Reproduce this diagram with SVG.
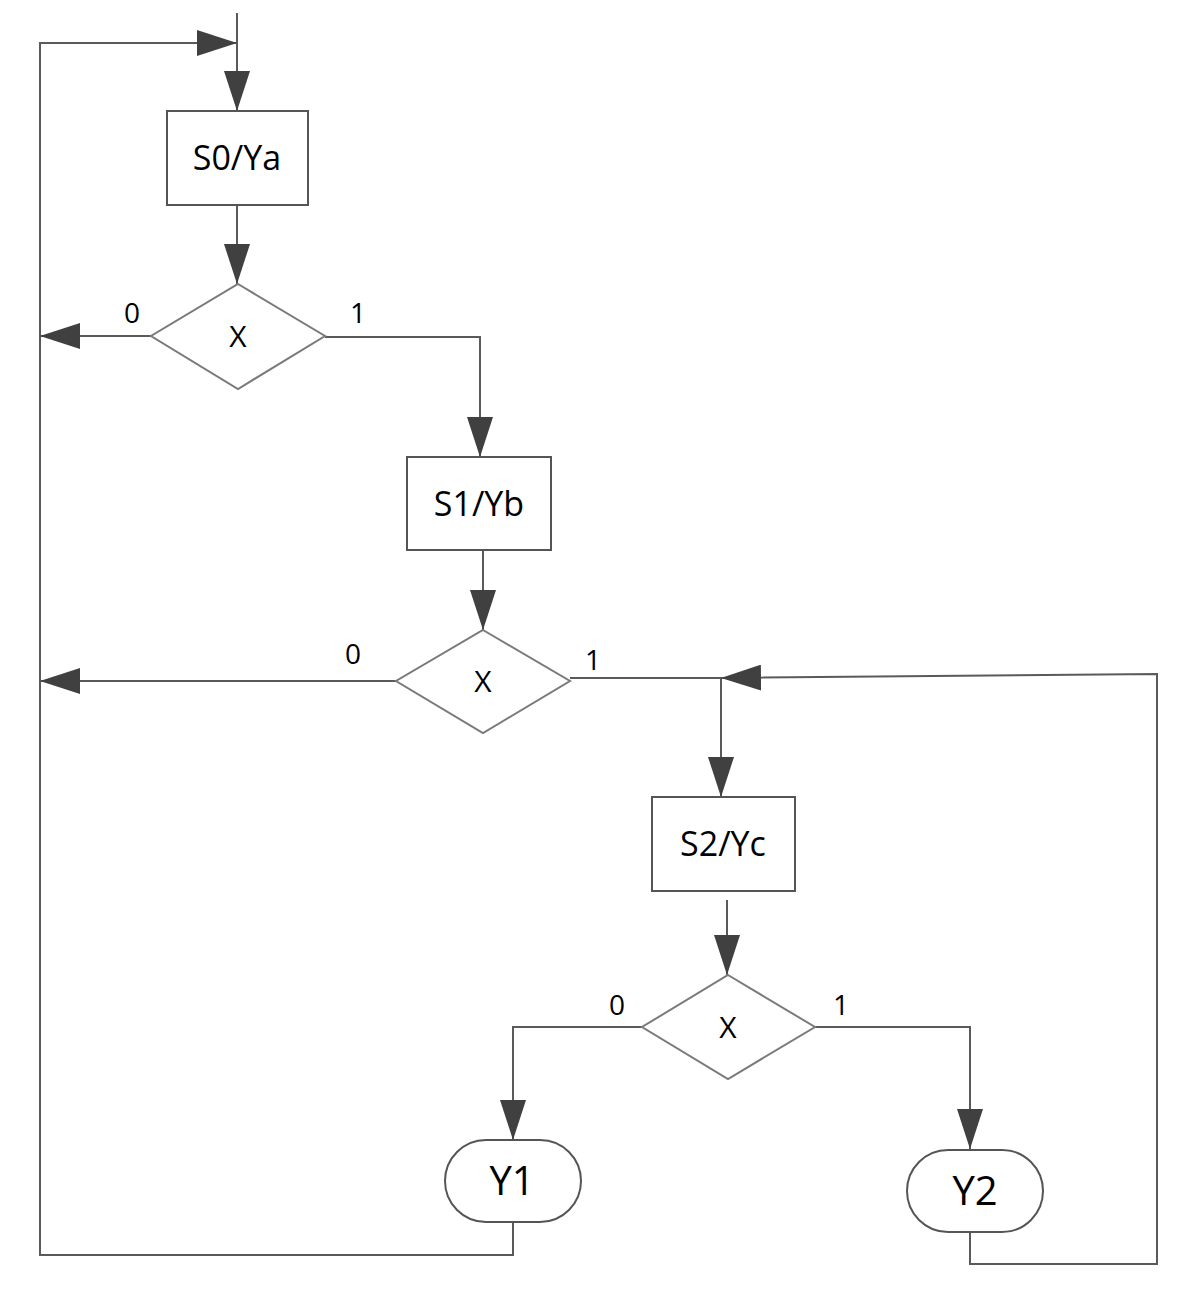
<svg xmlns="http://www.w3.org/2000/svg" width="1186" height="1292" viewBox="0 0 1186 1292">
<defs>
<marker id="ah" viewBox="0 0 40 26" markerWidth="40" markerHeight="26" refX="40" refY="13" orient="auto" markerUnits="userSpaceOnUse">
<path d="M0,0 L40,13 L0,26 z" fill="#404040"/>
</marker>
<style>
.box{fill:#fff;stroke:#555;stroke-width:2}
.dia{fill:#fff;stroke:#7a7a7a;stroke-width:2}
.ln{fill:none;stroke:#5a5a5a;stroke-width:2}
.ar{marker-end:url(#ah)}
.t{font-family:"Open Sans","Liberation Sans",sans-serif;fill:#000;text-anchor:middle}
.tb{font-size:34px}
.tx{font-size:30px}
.tl{font-size:28px}
.ty{font-size:40px}
</style>
</defs>
<rect width="1186" height="1292" fill="#fff"/>
<g id="connectors">
<path class="ln ar" d="M237,13 L237,111"/>
<path class="ln ar" d="M513,1222 L513,1255 L40,1255 L40,43 L237,43"/>
<path class="ln ar" d="M237,205 L237,284"/>
<path class="ln ar" d="M151,336 L40,336"/>
<path class="ln ar" d="M325,337 L480,337 L480,457"/>
<path class="ln ar" d="M483,550 L483,630"/>
<path class="ln ar" d="M396,681 L40,681"/>
<path class="ln" d="M570,678 L721,678"/>
<path class="ln ar" d="M721,678 L721,797"/>
<path class="ln ar" d="M970,1232 L970,1264 L1157,1264 L1157,674 L721,678"/>
<path class="ln ar" d="M727,900 L727,975"/>
<path class="ln ar" d="M642,1027 L513,1027 L513,1140"/>
<path class="ln ar" d="M815,1027 L970,1027 L970,1149"/>
</g>
<g id="s0">
<rect class="box" x="167" y="111" width="141" height="94"/>
<text class="t tb" x="237" y="170">S0/Ya</text>
</g>
<g id="d1">
<polygon class="dia" points="238,284 325,336 238,389 151,336"/>
<text class="t tx" x="238" y="347">X</text>
<text class="t tl" x="132" y="323">0</text>
<text class="t tl" x="358" y="323">1</text>
</g>
<g id="s1">
<rect class="box" x="407" y="457" width="144" height="93"/>
<text class="t tb" x="479" y="516">S1/Yb</text>
</g>
<g id="d2">
<polygon class="dia" points="483,630 570,681 483,733 396,681"/>
<text class="t tx" x="483" y="692">X</text>
<text class="t tl" x="353" y="664">0</text>
<text class="t tl" x="593" y="670">1</text>
</g>
<g id="s2">
<rect class="box" x="652" y="797" width="143" height="94"/>
<text class="t tb" x="723" y="856">S2/Yc</text>
</g>
<g id="d3">
<polygon class="dia" points="728,975 815,1027 728,1079 642,1027"/>
<text class="t tx" x="728" y="1038">X</text>
<text class="t tl" x="617" y="1015">0</text>
<text class="t tl" x="841" y="1015">1</text>
</g>
<g id="y1">
<rect class="box" x="445" y="1140" width="136" height="82" rx="41" ry="41"/>
<text class="t ty" x="512" y="1195">Y1</text>
</g>
<g id="y2">
<rect class="box" x="907" y="1150" width="136" height="82" rx="41" ry="41"/>
<text class="t ty" x="975" y="1205">Y2</text>
</g>
</svg>
